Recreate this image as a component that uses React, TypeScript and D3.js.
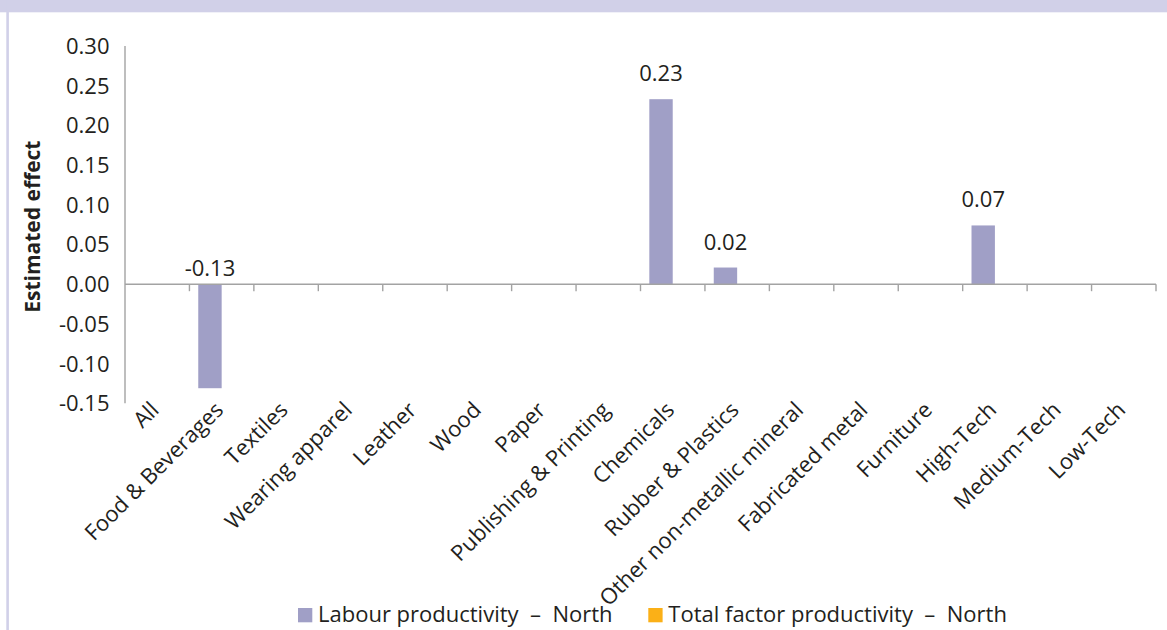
import React, { useEffect } from "react";
import * as d3 from "d3";

const categories: string[] = [
  "All",
  "Food & Beverages",
  "Textiles",
  "Wearing apparel",
  "Leather",
  "Wood",
  "Paper",
  "Publishing & Printing",
  "Chemicals",
  "Rubber & Plastics",
  "Other non-metallic mineral",
  "Fabricated metal",
  "Furniture",
  "High-Tech",
  "Medium-Tech",
  "Low-Tech",
];

const labourNorth: (number | null)[] = [
  null, -0.131, null, null, null, null, null, null, 0.233, 0.021, null, null, null, 0.074, null, null,
];
const labourLabels: (string | null)[] = [
  null, "-0.13", null, null, null, null, null, null, "0.23", "0.02", null, null, null, "0.07", null, null,
];
const tfpNorth: (number | null)[] = [
  null, null, null, null, null, null, null, null, null, null, null, null, null, null, null, null,
];

const seriesNames = ["Labour productivity  \u2013  North", "Total factor productivity  \u2013  North"];
const seriesKeys = ["labour", "tfp"];
const seriesColors = ["#a09fc6", "#fbb017"];

const yTicks: number[] = [0.3, 0.25, 0.2, 0.15, 0.1, 0.05, 0, -0.05, -0.1, -0.15];
const yTitle = "Estimated effect";

const W = 1167;
const H = 630;
const FONT = "'Open Sans', 'Noto Sans', sans-serif";
const TEXT = "#231f20";
const AXIS = "#a3a3a3";

const fmt = (v: number) => d3.format(".2f")(v).replace("\u2212", "-");

export default function App() {
  useEffect(() => {
    document.body.style.margin = "0";
  }, []);

  const plotLeft = 125;
  const plotRight = 1156;
  const plotTop = 46;
  const plotBottom = 403.3;

  const x = d3.scaleBand<string>().domain(categories).range([plotLeft, plotRight]).padding(0);
  const xInner = d3
    .scaleBand<string>()
    .domain(seriesKeys)
    .range([0, x.bandwidth()])
    .paddingInner(0)
    .paddingOuter(0.377);
  const y = d3.scaleLinear().domain([-0.15, 0.3]).range([plotBottom, plotTop]);
  const y0 = y(0);

  const series = [labourNorth, tfpNorth];

  return (
    <svg width={W} height={H} style={{ display: "block" }} fontFamily={FONT}>
      <rect x={0} y={0} width={W} height={H} fill="#ffffff" />
      {/* header band and frame */}
      <rect x={0} y={0} width={W} height={12.3} fill="#d1d0e8" />
      <rect x={6.3} y={0} width={2.6} height={H} fill="#d1d0e8" />

      {/* y axis labels */}
      {yTicks.map((t) => (
        <text
          key={"yt" + t}
          x={109.5}
          y={y(t)}
          dy="0.36em"
          textAnchor="end"
          fontSize={22}
          fill={TEXT}
        >
          {fmt(t)}
        </text>
      ))}

      {/* y title */}
      <text
        transform={`translate(40,${(plotTop + plotBottom) / 2 + 2}) rotate(-90)`}
        textAnchor="middle"
        fontSize={21}
        fontWeight="bold"
        fill={TEXT}
      >
        {yTitle}
      </text>

      {/* bars */}
      {series.map((vals, si) =>
        vals.map((v, i) =>
          v == null ? null : (
            <rect
              key={`b${si}-${i}`}
              x={(x(categories[i]) as number) + (xInner(seriesKeys[si]) as number)}
              y={Math.min(y(v), y0)}
              width={xInner.bandwidth()}
              height={Math.abs(y(v) - y0)}
              fill={seriesColors[si]}
            />
          )
        )
      )}

      {/* axes */}
      <line x1={plotLeft} x2={plotLeft} y1={plotTop} y2={plotBottom} stroke={AXIS} strokeWidth={1.4} />
      <line x1={plotLeft} x2={plotRight} y1={y0} y2={y0} stroke={AXIS} strokeWidth={1.4} />
      {categories.map((c, i) => (
        <line
          key={"xt" + i}
          x1={(x(c) as number) + x.bandwidth()}
          x2={(x(c) as number) + x.bandwidth()}
          y1={y0}
          y2={y0 + 7}
          stroke={AXIS}
          strokeWidth={1.4}
        />
      ))}

      {/* data labels */}
      {labourNorth.map((v, i) => {
        if (v == null || labourLabels[i] == null) return null;
        const cx = (x(categories[i]) as number) + (xInner("labour") as number) + xInner.bandwidth() / 2;
        const by = v >= 0 ? y(v) - 18 : y0 - 8;
        return (
          <text key={"dl" + i} x={cx} y={by} textAnchor="middle" fontSize={22} fill={TEXT}>
            {labourLabels[i]}
          </text>
        );
      })}

      {/* x labels */}
      {categories.map((c) => {
        const cx = (x(c) as number) + x.bandwidth() / 2;
        return (
          <text
            key={"xl" + c}
            transform={`translate(${cx + 3},${plotBottom + 8}) rotate(-45)`}
            textAnchor="end"
            fontSize={22}
            fill={TEXT}
          >
            {c}
          </text>
        );
      })}

      {/* legend */}
      {seriesNames.map((n, i) => {
        const lx = i === 0 ? 298 : 648.3;
        return (
          <g key={"lg" + i}>
            <rect x={lx} y={608} width={14.3} height={14.3} fill={seriesColors[i]} />
            <text x={lx + 20} y={622} fontSize={22} fill={TEXT} style={{ whiteSpace: "pre" }}>
              {n}
            </text>
          </g>
        );
      })}
    </svg>
  );
}
